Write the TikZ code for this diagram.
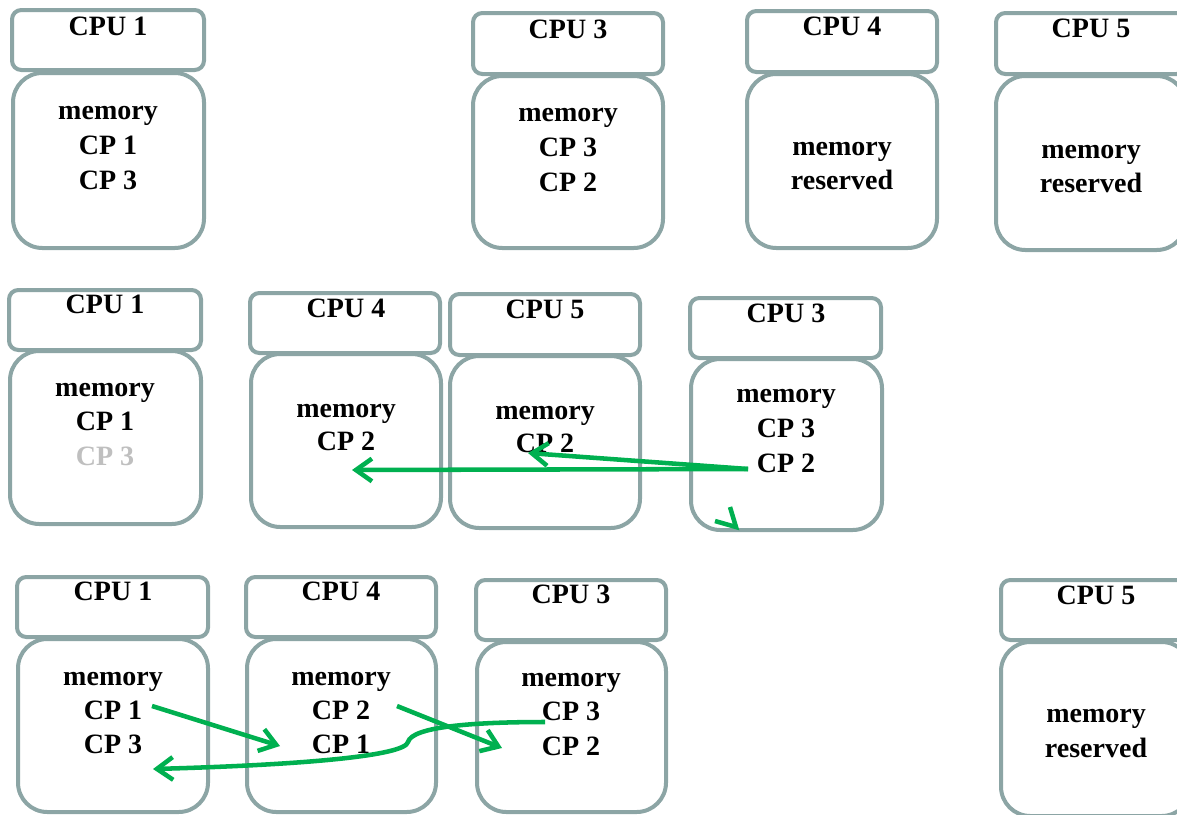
\documentclass[tikz,border=0pt]{standalone}
\usepackage{fontspec}
\setmainfont{Liberation Serif}
\usetikzlibrary{fit,arrows.meta}
\definecolor{boxc}{HTML}{8CA5A5}
\definecolor{arrc}{HTML}{00B050}
\definecolor{fadec}{HTML}{BFBFBF}
\tikzset{
  hdr/.style={draw=boxc, line width=3pt, rounded corners=7pt, fill=white, inner sep=0pt},
  mem/.style={draw=boxc, line width=3pt, rounded corners=22pt, fill=white, inner sep=0pt},
  txt/.style={font=\bfseries\fontsize{21}{26}\selectfont, anchor=base, inner sep=0pt},
  mv/.style={draw=arrc, line width=3.4pt, -{Straight Barb[length=12pt,width=17pt,line width=3.4pt]}},
}
\begin{document}
\begin{tikzpicture}[x=0.75pt,y=-0.75pt]
\useasboundingbox (0,0) rectangle (1177,814);
% ---------- Row 1 ----------
\node[hdr, fit={(12,10) (204,70)}] (h11) {};
\node[mem, fit={(13,73) (204,248)}] (m11) {};
\node[txt] (c11) at (108,35) {CPU 1};
\node[txt] (a11) at (108,119) {memory};
\node[txt] (b11) at (108,154) {CP 1};
\node[txt] (d11) at (108,189) {CP 3};

\node[hdr, fit={(473,13) (663,74)}] (h13) {};
\node[mem, fit={(473,76) (663,248)}] (m13) {};
\node[txt] (c13) at (568,38) {CPU 3};
\node[txt] (a13) at (568,121) {memory};
\node[txt] (b13) at (568,156) {CP 3};
\node[txt] (d13) at (568,191) {CP 2};

\node[hdr, fit={(747,11) (937,72)}] (h14) {};
\node[mem, fit={(747,74) (937,248)}] (m14) {};
\node[txt] (c14) at (842,35) {CPU 4};
\node[txt] (a14) at (842,155) {memory};
\node[txt] (b14) at (842,189) {reserved};

\node[hdr, fit={(996,13) (1186,74)}] (h15) {};
\node[mem, fit={(996,76) (1186,250)}] (m15) {};
\node[txt] (c15) at (1091,37) {CPU 5};
\node[txt] (a15) at (1091,158) {memory};
\node[txt] (b15) at (1091,192) {reserved};

% ---------- Row 2 ----------
\node[hdr, fit={(9,290) (201,350)}] (h21) {};
\node[mem, fit={(10,351) (201,524)}] (m21) {};
\node[txt] (c21) at (105,313) {CPU 1};
\node[txt] (a21) at (105,396) {memory};
\node[txt] (b21) at (105,430) {CP 1};
\node[txt, text=fadec] (d21) at (105,465) {CP 3};

\node[hdr, fit={(250,293) (440,353)}] (h24) {};
\node[mem, fit={(251,354) (441,527)}] (m24) {};
\node[txt] (c24) at (346,317) {CPU 4};
\node[txt] (a24) at (346,417) {memory};
\node[txt] (b24) at (346,450) {CP 2};

\node[hdr, fit={(450,294) (640,355)}] (h25) {};
\node[mem, fit={(450,356) (640,528)}] (m25) {};
\node[txt] (c25) at (545,318) {CPU 5};
\node[txt] (a25) at (545,419) {memory};
\node[txt] (b25) at (545,452) {CP 2};

\node[hdr, fit={(690,298) (881,358)}] (h23) {};
\node[mem, fit={(691,359) (882,530)}] (m23) {};
\node[txt] (c23) at (786,322) {CPU 3};
\node[txt] (a23) at (786,402) {memory};
\node[txt] (b23) at (786,437) {CP 3};
\node[txt] (d23) at (786,472) {CP 2};

\coordinate (s2) at (748,469);
\coordinate (e2a) at (352,470);
\coordinate (e2b) at (528,453);
\draw[mv] (s2) -- (e2a);
\draw[mv] (s2) -- (e2b);
\coordinate (k1) at (730,507);
\coordinate (k2) at (736,527);
\coordinate (k3) at (715,521);
\draw[draw=arrc, line width=3.4pt] (k1) -- (k2) -- (k3);

% ---------- Row 3 ----------
\node[hdr, fit={(17,577) (208,637)}] (h31) {};
\node[mem, fit={(18,639) (208,812)}] (m31) {};
\node[txt] (c31) at (113,600) {CPU 1};
\node[txt] (a31) at (113,685) {memory};
\node[txt] (b31) at (113,719) {CP 1};
\node[txt] (d31) at (113,753) {CP 3};

\node[hdr, fit={(246,577) (436,637)}] (h34) {};
\node[mem, fit={(247,639) (436,812)}] (m34) {};
\node[txt] (c34) at (341,600) {CPU 4};
\node[txt] (a34) at (341,685) {memory};
\node[txt] (b34) at (341,719) {CP 2};
\node[txt] (d34) at (341,753) {CP 1};

\node[hdr, fit={(476,580) (666,640)}] (h33) {};
\node[mem, fit={(477,642) (666,812)}] (m33) {};
\node[txt] (c33) at (571,603) {CPU 3};
\node[txt] (a33) at (571,686) {memory};
\node[txt] (b33) at (571,720) {CP 3};
\node[txt] (d33) at (571,755) {CP 2};

\node[hdr, fit={(1001,580) (1191,640)}] (h35) {};
\node[mem, fit={(1001,642) (1191,816)}] (m35) {};
\node[txt] (c35) at (1096,604) {CPU 5};
\node[txt] (a35) at (1096,722) {memory};
\node[txt] (b35) at (1096,757) {reserved};

\coordinate (s31) at (152,706);
\coordinate (e31) at (280,746);
\coordinate (s32) at (397,706);
\coordinate (e32) at (502,748);
\coordinate (s33) at (545,722);
\coordinate (e33) at (153,769);
\draw[mv] (s31) -- (e31);
\draw[mv] (s32) -- (e32);
\draw[mv] (s33) .. controls (470,722) and (412,727) .. (408,742)
  .. controls (405,756) and (300,765) .. (e33);
\end{tikzpicture}
\end{document}
